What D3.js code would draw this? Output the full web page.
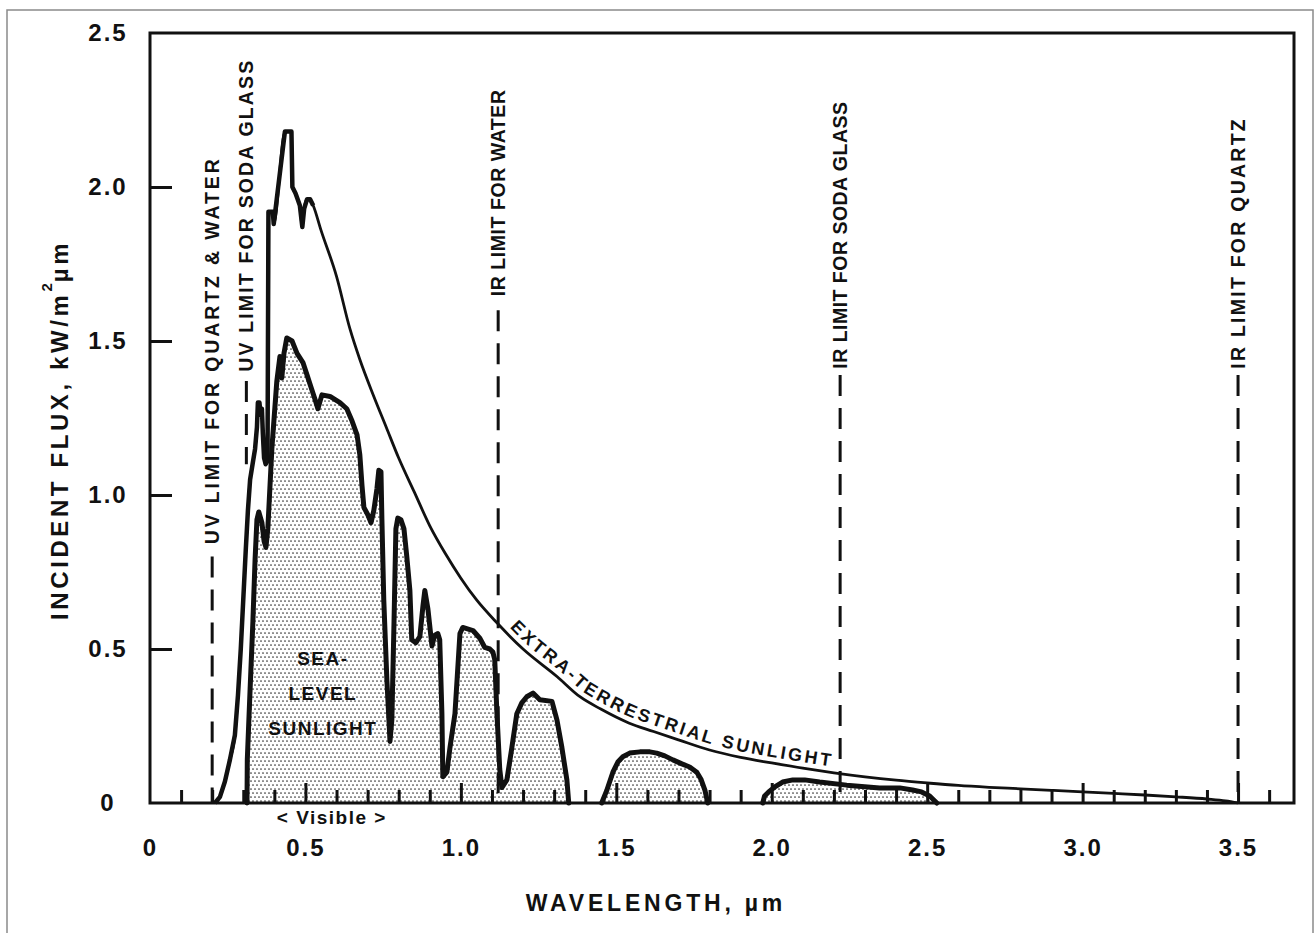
<!DOCTYPE html>
<html><head><meta charset="utf-8">
<script src="https://cdn.jsdelivr.net/npm/d3@7"></script>
<style>
body{margin:0;background:#fff;}
svg text{font-family:"Liberation Sans",Arial,Helvetica,sans-serif;font-weight:bold;fill:#111;}
</style></head><body><svg id="c" width="1314" height="933"></svg>
<script>
// ---------- data ----------
const xTickValues = [0, 0.5, 1.0, 1.5, 2.0, 2.5, 3.0, 3.5];
const xTickLabels = ["0", "0.5", "1.0", "1.5", "2.0", "2.5", "3.0", "3.5"];
const xMinorTickValues = [0.1,0.2,0.3,0.4,0.6,0.7,0.8,0.9,1.1,1.2,1.3,1.4,1.6,1.7,1.8,1.9,2.1,2.2,2.3,2.4,2.6,2.7,2.8,2.9,3.1,3.2,3.3,3.4,3.6];
const xMajorTickValues = [0.5, 1.0, 1.5, 2.0, 2.5, 3.0, 3.5];
const yTickValues = [0, 0.5, 1.0, 1.5, 2.0, 2.5];
const yTickLabels = ["0", "0.5", "1.0", "1.5", "2.0", "2.5"];
const yInnerTickValues = [0.5, 1.0, 1.5, 2.0];

// Extra-terrestrial sunlight (µm, kW/m²µm)
const etWavelength = [0.209,0.225,0.241,0.257,0.273,0.283,0.292,0.300,0.308,0.315,0.322,0.330,0.338,0.344,0.347,0.352,0.356,0.360,0.363,0.367,0.372,0.378,0.381,0.388,0.395,0.398,0.434,0.455,0.458,0.468,0.475,0.482,0.490,0.496,0.505,0.515,0.525,
  0.55,0.60,0.643,0.675,0.72,0.76,0.80,0.85,0.90,0.95,1.00,1.05,1.116,1.20,1.31,1.383,1.45,1.54,1.62,1.70,1.80,1.90,2.00,2.10,2.20,2.30,2.40,2.50,2.60,2.70,2.80,2.90,3.00,3.10,3.20,3.30,3.40,3.46,3.50];
const etFlux = [0,0.02,0.07,0.14,0.22,0.35,0.50,0.66,0.82,0.95,1.05,1.10,1.15,1.22,1.30,1.30,1.26,1.28,1.20,1.12,1.10,1.11,1.92,1.92,1.92,1.88,2.18,2.18,2.00,1.98,1.96,1.94,1.87,1.93,1.96,1.96,1.94,
  1.86,1.71,1.54,1.44,1.32,1.22,1.12,1.01,0.90,0.81,0.73,0.66,0.585,0.50,0.41,0.345,0.305,0.26,0.232,0.205,0.172,0.148,0.130,0.113,0.098,0.085,0.074,0.065,0.057,0.051,0.046,0.041,0.036,0.031,0.026,0.020,0.013,0.007,0];

// Sea-level sunlight (µm, kW/m²µm)
const seaWavelength = [0.312,0.313,0.322,0.331,0.338,0.344,0.350,0.360,0.367,0.373,0.379,0.392,0.408,0.418,0.424,0.431,0.440,0.457,0.473,0.492,0.505,0.518,0.531,0.540,0.553,0.579,0.611,0.633,0.650,0.666,0.675,0.682,0.688,0.701,0.711,0.720,0.730,0.736,0.743,0.746,0.752,0.762,0.772,0.778,0.785,0.791,0.797,0.807,0.817,0.826,0.836,0.842,0.855,0.868,0.878,0.884,0.894,0.907,0.916,0.926,0.932,0.939,0.942,0.955,0.965,0.981,0.997,1.006,1.039,1.061,1.077,1.093,1.103,1.109,1.116,1.125,1.132,1.148,1.164,1.180,1.196,1.212,1.232,1.254,1.293,1.309,1.325,1.341,1.347,
  1.453,1.469,1.489,1.505,1.521,1.543,1.576,1.608,1.630,1.656,1.682,1.711,1.736,1.759,1.772,1.785,1.794,
  1.971,1.977,1.990,2.010,2.035,2.068,2.106,2.154,2.241,2.347,2.412,2.453,2.482,2.508,2.531];
const seaFlux = [0,0.14,0.37,0.59,0.79,0.92,0.945,0.91,0.85,0.83,0.89,1.15,1.37,1.45,1.38,1.46,1.51,1.50,1.46,1.43,1.39,1.35,1.31,1.28,1.325,1.32,1.30,1.28,1.24,1.195,1.13,1.03,0.96,0.935,0.91,0.95,1.02,1.08,1.075,0.92,0.66,0.40,0.20,0.27,0.59,0.89,0.925,0.92,0.89,0.80,0.69,0.53,0.52,0.54,0.64,0.69,0.63,0.51,0.545,0.55,0.53,0.29,0.085,0.10,0.18,0.29,0.55,0.57,0.56,0.535,0.505,0.50,0.49,0.465,0.29,0.11,0.05,0.075,0.18,0.29,0.325,0.345,0.357,0.335,0.33,0.27,0.18,0.075,0,
  0,0.04,0.10,0.133,0.15,0.162,0.166,0.166,0.162,0.153,0.14,0.127,0.117,0.10,0.078,0.042,0,
  0,0.023,0.036,0.052,0.068,0.075,0.075,0.068,0.058,0.049,0.049,0.042,0.036,0.023,0];

// Transmission limits
const limitWavelength = [0.2, 0.31, 1.12, 2.22, 3.5];
const limitLabels = ["UV LIMIT FOR QUARTZ & WATER", "UV LIMIT FOR SODA GLASS", "IR LIMIT FOR WATER", "IR LIMIT FOR SODA GLASS", "IR LIMIT FOR QUARTZ"];
const limitDashFrom = [0, 1.10, 0, 0, 0];
const limitDashTo = [0.80, 1.37, 1.60, 1.39, 1.39];
const limitLabelFrom = [0.84, 1.40, 1.645, 1.41, 1.41];
const limitLabelTo = [2.09, 2.41, 2.315, 2.276, 2.22];

const etLabel = "EXTRA-TERRESTRIAL SUNLIGHT";
const etLabelFrom = 1.14, etLabelTo = 2.19;
const seaLabelLines = ["SEA-", "LEVEL", "SUNLIGHT"];
const seaLabelAt = [0.556, 0.47];
const visibleLabel = "< Visible >";
const visibleLabelAt = 0.585;
const xTitle = "WAVELENGTH,  µm";

// ---------- drawing ----------
const svg = d3.select("#c");
const x = d3.scaleLinear().domain([0, 3.68]).range([150, 1294]);
const y = d3.scaleLinear().domain([0, 2.5]).range([803, 33]);

// outer thin border
svg.append("rect").attr("x", 7).attr("y", 10).attr("width", 1306).attr("height", 940)
  .attr("fill", "none").attr("stroke", "#8a8a8a").attr("stroke-width", 1.5);

// stipple pattern
const defs = svg.append("defs");
const pat = defs.append("pattern").attr("id", "dots").attr("patternUnits", "userSpaceOnUse")
  .attr("width", 4).attr("height", 8);
pat.append("rect").attr("width", 4).attr("height", 8).attr("fill", "#fff");
pat.append("circle").attr("cx", 1).attr("cy", 1).attr("r", 0.85).attr("fill", "#333");
pat.append("circle").attr("cx", 3).attr("cy", 5).attr("r", 0.85).attr("fill", "#333");

const sea = seaWavelength.map((w, i) => ({ w, v: seaFlux[i] }));
const et = etWavelength.map((w, i) => ({ w, v: etFlux[i] }));

// sea-level fill
const area = d3.area().x(d => x(d.w)).y0(y(0)).y1(d => y(d.v));
svg.append("path").datum(sea).attr("d", area).attr("fill", "url(#dots)");

// dashed limit lines + labels
limitWavelength.forEach((w, i) => {
  svg.append("line")
    .attr("x1", x(w)).attr("x2", x(w))
    .attr("y1", y(limitDashTo[i])).attr("y2", y(limitDashFrom[i]))
    .attr("stroke", "#111").attr("stroke-width", 3).attr("stroke-dasharray", "21,12");
  const y0 = y(limitLabelFrom[i]), y1 = y(limitLabelTo[i]);
  svg.append("text")
    .attr("transform", `translate(${x(w)},${y0}) rotate(-90)`)
    .attr("dominant-baseline", "central")
    .attr("font-size", 19.5)
    .attr("textLength", y0 - y1).attr("lengthAdjust", "spacing")
    .text(limitLabels[i]);
});

// extra-terrestrial curve
const etLine = d3.line().x(d => x(d.w)).y(d => y(d.v)).curve(d3.curveMonotoneX);
const etPathSel = svg.append("path").datum(et).attr("d", etLine)
  .attr("fill", "none").attr("stroke", "#111").attr("stroke-width", 2.8).attr("stroke-linejoin", "round");
svg.append("path").datum(et.filter(d => d.w <= 0.53)).attr("d", d3.line().x(d => x(d.w)).y(d => y(d.v)))
  .attr("fill", "none").attr("stroke", "#111").attr("stroke-width", 4.5).attr("stroke-linejoin", "round");

// sea-level outline, split into bands
const bands = [];
let cur = [];
sea.forEach((d, i) => {
  if (i > 0 && d.v === 0 && sea[i - 1].v === 0) { bands.push(cur); cur = []; }
  cur.push(d);
});
bands.push(cur);
const seaLine = d3.line().x(d => x(d.w)).y(d => y(d.v));
bands.forEach(b => svg.append("path").datum(b).attr("d", seaLine)
  .attr("fill", "none").attr("stroke", "#111").attr("stroke-width", 5)
  .attr("stroke-linejoin", "round").attr("stroke-linecap", "round"));

// ET label along the curve
const etNode = etPathSel.node();
const L = etNode.getTotalLength();
const raw = [];
for (let s = 0; s <= L; s += 1.5) { const p = etNode.getPointAtLength(s); raw.push([p.x, p.y]); }
const xa = x(etLabelFrom), xb = x(etLabelTo);
const seg = raw.filter(p => p[0] >= xa && p[0] <= xb);
const gap = 6;
const off = seg.map((p, i) => {
  const a = seg[Math.max(0, i - 4)], b = seg[Math.min(seg.length - 1, i + 4)];
  let tx = b[0] - a[0], ty = b[1] - a[1];
  const n = Math.hypot(tx, ty) || 1; tx /= n; ty /= n;
  return [p[0] + ty * gap, p[1] - tx * gap];
});
const offPath = defs.append("path").attr("id", "etLabelPath").attr("d", d3.line()(off));
const offLen = offPath.node().getTotalLength();
const etText = svg.append("text").attr("font-size", 18);
etText.append("textPath").attr("href", "#etLabelPath").text(etLabel);
const nat = etText.node().getComputedTextLength();
etText.attr("letter-spacing", Math.max(0, (offLen - nat) / (etLabel.length - 0.5)));

// sea-level label
seaLabelLines.forEach((t, i) => {
  svg.append("text").attr("x", x(seaLabelAt[0])).attr("y", y(seaLabelAt[1]) + 7 + i * 35)
    .attr("text-anchor", "middle").attr("font-size", 19).attr("letter-spacing", 1.5).text(t);
});

// frame
svg.append("rect").attr("x", x(0)).attr("y", y(2.5)).attr("width", x(3.68) - x(0)).attr("height", y(0) - y(2.5))
  .attr("fill", "none").attr("stroke", "#111").attr("stroke-width", 3);

// x ticks (inward)
const gx = svg.append("g").attr("transform", `translate(0,${y(0)})`);
gx.call(d3.axisBottom(x).tickValues(xMinorTickValues).tickSize(-13).tickFormat(""));
gx.append("g").call(d3.axisBottom(x).tickValues(xMajorTickValues).tickSize(-20).tickFormat(""));
gx.selectAll(".domain").remove();
gx.selectAll("line").attr("stroke", "#111").attr("stroke-width", 3);

// x tick labels
const gxl = svg.append("g").attr("transform", `translate(0,${y(0)})`)
  .call(d3.axisBottom(x).tickValues(xTickValues).tickSize(0).tickPadding(36).tickFormat((d, i) => xTickLabels[i]));
gxl.selectAll(".domain").remove();
gxl.selectAll("text").attr("font-size", 24).attr("letter-spacing", 2)
  .attr("font-family", "Liberation Sans, Arial, sans-serif").attr("font-weight", "bold").attr("fill", "#111");

// y ticks (inward)
const gy = svg.append("g").attr("transform", `translate(${x(0)},0)`)
  .call(d3.axisLeft(y).tickValues(yInnerTickValues).tickSize(-22).tickFormat(""));
gy.selectAll(".domain").remove();
gy.selectAll("line").attr("stroke", "#111").attr("stroke-width", 3);

// y tick labels
const gyl = svg.append("g").attr("transform", `translate(${x(0)},0)`)
  .call(d3.axisLeft(y).tickValues(yTickValues).tickSize(0).tickFormat((d, i) => yTickLabels[i]));
gyl.selectAll(".domain").remove();
gyl.selectAll("text").attr("x", -42).attr("text-anchor", "middle").attr("font-size", 24).attr("letter-spacing", 2)
  .attr("font-family", "Liberation Sans, Arial, sans-serif").attr("font-weight", "bold").attr("fill", "#111");

// visible label
svg.append("text").attr("x", x(visibleLabelAt)).attr("y", y(0) + 21).attr("text-anchor", "middle")
  .attr("font-size", 19).attr("letter-spacing", 1.5).text(visibleLabel);

// axis titles
svg.append("text").attr("x", 656).attr("y", 911).attr("text-anchor", "middle")
  .attr("font-size", 23).attr("letter-spacing", 3.8).text(xTitle);

const yt = svg.append("text").attr("transform", "translate(68,620) rotate(-90)")
  .attr("font-size", 24).attr("letter-spacing", 3.6);
yt.append("tspan").text("INCIDENT FLUX,  kW/m");
yt.append("tspan").attr("font-size", 15).attr("dy", -16).attr("letter-spacing", 1).text("2");
yt.append("tspan").attr("dy", 16).text("µm");
</script></body></html>
